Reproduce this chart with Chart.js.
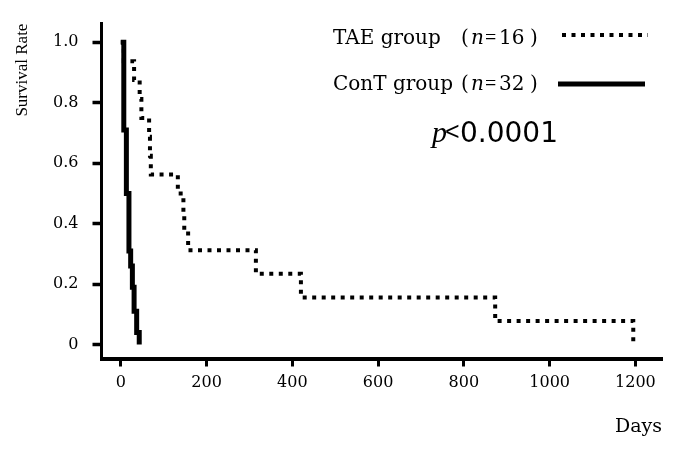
<!DOCTYPE html>
<html>
<head>
<meta charset="utf-8">
<script src="https://cdn.jsdelivr.net/npm/chart.js@4.4.1/dist/chart.umd.min.js"></script>
<style>
  html, body { margin: 0; padding: 0; background: #fff; }
  #wrap { width: 685px; height: 450px; }
</style>
</head>
<body>
<div id="wrap"><canvas id="survivalChart" width="685" height="450"></canvas></div>
<script>
// datos
const taeDays = [0, 7, 31, 44, 48, 66, 68, 70, 133, 146, 148, 157, 315, 420, 873, 1195];
const taeSurv = [1.0, 0.9375, 0.875, 0.8125, 0.75, 0.6875, 0.625, 0.5625, 0.5, 0.4375, 0.375, 0.3125, 0.234, 0.156, 0.078, 0];

const conDays = [0, 7, 13, 19, 23, 27, 31, 37, 43];
const conSurv = [1.0, 0.71, 0.5, 0.31, 0.26, 0.19, 0.11, 0.04, 0];

const xTicks = [0, 200, 400, 600, 800, 1000, 1200];
const yTicks = [0, 0.2, 0.4, 0.6, 0.8, 1.0];
const yTickLabels = ['0', '0.2', '0.4', '0.6', '0.8', '1.0'];

const serif = "'DejaVu Serif', serif";
const dotDash = [4, 5.5];

// leyenda y texto p
const annotations = {
    id: 'annotations',
    afterDraw(chart) {
        const ctx = chart.ctx;
        ctx.save();
        ctx.fillStyle = '#000';
        ctx.strokeStyle = '#000';
        ctx.textBaseline = 'alphabetic';
        ctx.textAlign = 'left';

        const rows = [
            { name: 'TAE group', n: '16', y: 44, lineY: 35, dash: dotDash, width: 4, x1: 562, x2: 648 },
            { name: 'ConT group', n: '32', y: 90, lineY: 84, dash: [], width: 5, x1: 558, x2: 645 }
        ];
        rows.forEach(r => {
            ctx.font = "20px " + serif;
            ctx.fillText(r.name, 333, r.y);
            ctx.fillText('(', 461, r.y);
            ctx.font = "italic 20px " + serif;
            ctx.fillText('n', 471, r.y);
            ctx.font = "20px 'Liberation Serif', serif";
            ctx.fillText('=', 485, r.y);
            ctx.font = "20px " + serif;
            ctx.fillText(r.n, 499, r.y);
            ctx.fillText(')', 530, r.y);

            ctx.beginPath();
            ctx.setLineDash(r.dash);
            ctx.lineWidth = r.width;
            ctx.lineCap = 'butt';
            ctx.moveTo(r.x1, r.lineY);
            ctx.lineTo(r.x2, r.lineY);
            ctx.stroke();
        });
        ctx.setLineDash([]);

        ctx.font = "italic 30px 'Liberation Serif', serif";
        ctx.fillText('p', 432, 141.5);
        ctx.font = "25px 'Liberation Sans', sans-serif";
        ctx.fillText('<', 445, 140);
        ctx.font = "28px 'DejaVu Sans', sans-serif";
        ctx.fillText('0.0001', 460, 141.5);
        ctx.restore();
    }
};

document.addEventListener('DOMContentLoaded', function() {
    Chart.defaults.font.family = serif;
    Chart.defaults.color = '#000';

    const canvas = document.getElementById('survivalChart');
    new Chart(canvas.getContext('2d'), {
        type: 'line',
        data: {
            datasets: [
                {
                    label: 'TAE group',
                    data: taeDays.map((d, i) => ({ x: d, y: taeSurv[i] })),
                    borderColor: '#000',
                    borderWidth: 4,
                    borderDash: dotDash,
                    borderCapStyle: 'butt',
                    stepped: 'before',
                    pointRadius: 0,
                    fill: false
                },
                {
                    label: 'ConT group',
                    data: conDays.map((d, i) => ({ x: d, y: conSurv[i] })),
                    borderColor: '#000',
                    borderWidth: 5,
                    borderCapStyle: 'butt',
                    stepped: 'before',
                    pointRadius: 0,
                    fill: false
                }
            ]
        },
        options: {
            responsive: false,
            animation: false,
            layout: { padding: { top: 22, right: 23, left: 0, bottom: 0 } },
            plugins: { legend: { display: false }, tooltip: { enabled: false } },
            scales: {
                x: {
                    type: 'linear',
                    min: -45,
                    max: 1262,
                    afterBuildTicks: s => { s.ticks = xTicks.map(v => ({ value: v })); },
                    afterFit: s => { s.height = 91.5; },
                    ticks: {
                        font: { family: serif, size: 16 }, padding: 7, color: '#000', maxRotation: 0,
                        callback: v => String(v)
                    },
                    grid: { drawOnChartArea: false, drawTicks: true, tickLength: 8, tickWidth: 3, tickColor: '#000' },
                    border: { display: true, color: '#000', width: 4 },
                    title: {
                        display: true, text: 'Days', align: 'end', color: '#000',
                        font: { family: serif, size: 19 }, padding: { top: 0, bottom: 12 }
                    }
                },
                y: {
                    min: -0.046,
                    max: 1.062,
                    afterBuildTicks: s => { s.ticks = yTicks.map(v => ({ value: v })); },
                    afterFit: s => { s.width = 101.5; },
                    ticks: {
                        font: { family: serif, size: 16 }, padding: 14, color: '#000',
                        callback: v => yTickLabels[yTicks.indexOf(v)]
                    },
                    grid: { drawOnChartArea: false, drawTicks: true, tickLength: 9, tickWidth: 3.5, tickColor: '#000' },
                    border: { display: true, color: '#000', width: 3 },
                    title: {
                        display: true, text: 'Survival Rate', align: 'end', color: '#000',
                        font: { family: "'Liberation Serif', serif", size: 17 }, padding: { top: 12, bottom: 0 }
                    }
                }
            }
        },
        plugins: [annotations]
    });
});
</script>
</body>
</html>
